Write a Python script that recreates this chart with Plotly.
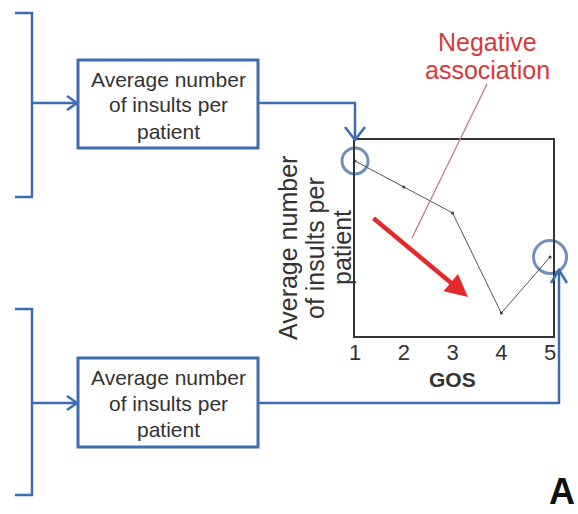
import plotly.graph_objects as go

# ---- data ----
gos = [1, 2, 3, 4, 5]
avg_insults = [0.893, 0.760, 0.628, 0.117, 0.403]
tick_labels = ["1", "2", "3", "4", "5"]
highlight_gos = [1, 5]
highlight_vals = [0.893, 0.403]
highlight_sizes = [26, 33]

box_lines = ["Average number", "of insults per", "patient"]
ylabel_lines = ["Average number", "of insults per", "patient"]
note_lines = ["Negative", "association"]

W, H = 578, 514
BLUE = "#3d6cb0"
CIRC = "#35609e"
FONT = "Liberation Sans, Arial, sans-serif"


def X(px):
    return px / W


def Y(py):
    return 1 - py / H


def path(points):
    s = "M {} {}".format(X(points[0][0]), Y(points[0][1]))
    for p in points[1:]:
        s += " L {} {}".format(X(p[0]), Y(p[1]))
    return s


fig = go.Figure()

fig.add_trace(go.Scatter(
    x=gos, y=avg_insults, mode="lines+markers",
    line=dict(color="#555555", width=1),
    marker=dict(size=3, color="#444444"),
    cliponaxis=False, showlegend=False, hoverinfo="skip"))

fig.add_trace(go.Scatter(
    x=highlight_gos, y=highlight_vals, mode="markers",
    marker=dict(symbol="circle-open", size=highlight_sizes,
                color=CIRC, line=dict(width=3, color=CIRC)),
    cliponaxis=False, showlegend=False, hoverinfo="skip"))

shapes = []
ln = dict(color=BLUE, width=2.5)
# brackets
shapes.append(dict(type="path", path=path([(15, 13), (32, 13), (32, 197), (15, 197)]), line=ln, xref="paper", yref="paper"))
shapes.append(dict(type="path", path=path([(15, 309), (32, 309), (32, 495), (15, 495)]), line=ln, xref="paper", yref="paper"))
# bracket -> box arrows
for yy in (103, 403):
    shapes.append(dict(type="path", path=path([(32, yy), (77, yy)]), line=ln, xref="paper", yref="paper"))
    shapes.append(dict(type="path", path=path([(67, yy - 7), (77, yy), (67, yy + 7)]), line=ln, xref="paper", yref="paper"))
# boxes
for (y0, y1) in ((60, 148), (358, 447)):
    shapes.append(dict(type="rect", x0=X(78), x1=X(258), y0=Y(y1), y1=Y(y0),
                       line=dict(color=BLUE, width=3), xref="paper", yref="paper"))
# top connector
shapes.append(dict(type="path", path=path([(258, 103), (355, 103), (355, 140)]), line=ln, xref="paper", yref="paper"))
shapes.append(dict(type="path", path=path([(345, 127), (355, 140), (365, 127)]), line=ln, xref="paper", yref="paper"))
# bottom connector
shapes.append(dict(type="path", path=path([(258, 403), (559, 403), (559, 270)]), line=ln, xref="paper", yref="paper"))
shapes.append(dict(type="path", path=path([(551, 283), (559, 270), (567, 283)]), line=ln, xref="paper", yref="paper"))
# pointer line from note to arrow
shapes.append(dict(type="path", path=path([(487, 84), (412, 238)]),
                   line=dict(color="#c07a84", width=1.3), xref="paper", yref="paper"))

annotations = []
# box texts
for cy0 in (79, 377):
    for i, t in enumerate(box_lines):
        annotations.append(dict(x=X(168), y=Y(cy0 + 26 * i), xref="paper", yref="paper",
                                text=t, showarrow=False, xanchor="center", yanchor="middle",
                                font=dict(family=FONT, size=21, color="#333333")))
# rotated y label
for i, t in enumerate(ylabel_lines):
    annotations.append(dict(x=X(288 + 27 * i), y=Y(248), xref="paper", yref="paper",
                            text=t, showarrow=False, textangle=-90,
                            xanchor="center", yanchor="middle",
                            font=dict(family=FONT, size=25, color="#333333")))
# note
for i, t in enumerate(note_lines):
    annotations.append(dict(x=X(488), y=Y(42 + 28 * i), xref="paper", yref="paper",
                            text=t, showarrow=False, xanchor="center", yanchor="middle",
                            font=dict(family=FONT, size=25, color="#d9383a")))
# GOS title
annotations.append(dict(x=X(452), y=Y(379), xref="paper", yref="paper", text="<b>GOS</b>",
                        showarrow=False, xanchor="center", yanchor="middle",
                        font=dict(family=FONT, size=21, color="#333333")))
# red arrow
annotations.append(dict(x=X(468), y=Y(297), xref="paper", yref="paper", text="",
                        showarrow=True, axref="pixel", ayref="pixel", ax=-96, ay=-80,
                        arrowhead=2, arrowsize=1, arrowwidth=4.5, arrowcolor="#e32b2b"))
# panel letter
annotations.append(dict(x=X(577), y=0, xref="paper", yref="paper", text="<b>A</b>",
                        showarrow=False, xanchor="right", yanchor="bottom",
                        font=dict(family=FONT, size=36, color="#111111")))

fig.update_layout(
    width=W, height=H, margin=dict(l=0, r=0, t=0, b=0),
    paper_bgcolor="white", plot_bgcolor="white",
    shapes=shapes, annotations=annotations,
    xaxis=dict(domain=[X(355), X(553)], range=[1, 5.06], tickvals=gos, ticktext=tick_labels,
               showgrid=False, zeroline=False, showline=True, mirror=True,
               linecolor="#333333", linewidth=1.5, ticks="", automargin=False,
               ticklabelstandoff=-4,
               tickfont=dict(family=FONT, size=22, color="#333333")),
    yaxis=dict(domain=[Y(336), Y(140)], range=[0, 1], showticklabels=False,
               showgrid=False, zeroline=False, showline=True, mirror=True,
               linecolor="#333333", linewidth=1.5, ticks="", automargin=False),
)

fig.write_html("out.html")
